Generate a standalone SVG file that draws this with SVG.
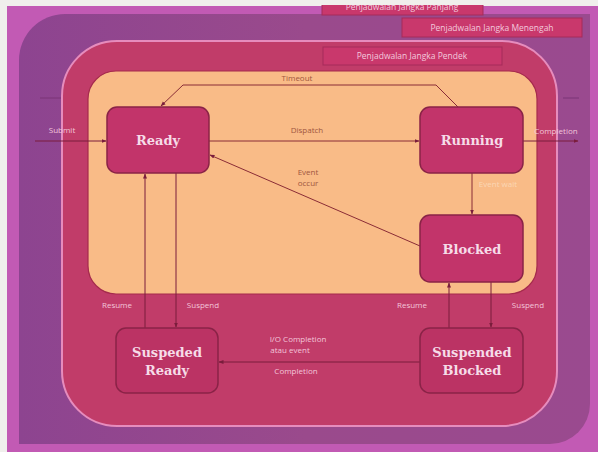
<svg xmlns="http://www.w3.org/2000/svg" width="598" height="452" viewBox="0 0 598 452">
<defs>
<style>
.node rect{fill:#c2346a;stroke:#8a2347;stroke-width:1.5}
.node.sus rect{fill:#bb3364}
.node text{font-family:"DejaVu Serif","Liberation Serif",serif;font-weight:bold;font-size:13px;fill:#f6dce8;text-anchor:middle}
.lbl rect{fill:#c9386c;stroke:#a52a5a;stroke-width:1}
.lbl text{font-family:"Open Sans","Liberation Sans",sans-serif;font-size:8.5px;fill:#f3c9dc;text-anchor:middle}
.ln{fill:none;stroke:#8a2c36;stroke-width:1}
.ln2{fill:none;stroke:#7a1d3c;stroke-width:1}
.tdark{font-family:"Open Sans","Liberation Sans",sans-serif;font-size:8px;fill:#a0563f;text-anchor:middle}
.tlight{font-family:"Open Sans","Liberation Sans",sans-serif;font-size:8px;fill:#f3c6da;text-anchor:middle}
</style>
<linearGradient id="pg" x1="0" y1="0" x2="1" y2="0">
<stop offset="0" stop-color="#8d4490"/><stop offset="0.5" stop-color="#9a4a8c"/><stop offset="1" stop-color="#9a4a8f"/>
</linearGradient>
<marker id="ah" viewBox="0 0 10 10" refX="9" refY="5" markerWidth="5" markerHeight="5" orient="auto">
<path d="M0,1 L10,5 L0,9 Z" fill="#7a1d3c"/>
</marker>
</defs>
<rect x="0" y="0" width="598" height="452" fill="#f0efec"/>
<rect x="7" y="6" width="591" height="446" fill="#c25ab4"/>
<path d="M19,60 A46,46 0 0 1 65,14 L590,14 L590,404 A40,40 0 0 1 550,444 L19,444 Z" fill="url(#pg)"/>
<rect x="62" y="41" width="495" height="385" rx="55" fill="#c13c69" stroke="#e68cbd" stroke-width="2"/>
<rect x="88" y="71" width="449" height="223" rx="28" fill="#f9bb87" stroke="#a52b4d" stroke-width="1.2"/>
<line x1="40" y1="98" x2="61" y2="98" stroke="#7b3577" stroke-width="1"/>
<line x1="563" y1="98" x2="579" y2="98" stroke="#7b3577" stroke-width="1"/>

<g id="label-panjang" class="lbl"><rect x="322" y="-4" width="161" height="19"/><text x="402" y="10">Penjadwalan Jangka Panjang</text></g>
<rect x="0" y="0" width="598" height="5" fill="#f0efec"/>
<g id="label-menengah" class="lbl"><rect x="402" y="18" width="180" height="19"/><text x="492" y="31">Penjadwalan Jangka Menengah</text></g>
<g id="label-pendek" class="lbl"><rect x="323" y="47" width="179" height="18"/><text x="412" y="59">Penjadwalan Jangka Pendek</text></g>

<g id="connectors">
<path class="ln" d="M436,85 L183,85 L161,106" marker-end="url(#ah)"/>
<path class="ln" d="M436,85 L458,107"/>
<text class="tdark" x="297" y="81">Timeout</text>
<line class="ln2" x1="35" y1="141" x2="106" y2="141" marker-end="url(#ah)"/>
<text class="tlight" x="62" y="133">Submit</text>
<line class="ln" x1="209" y1="141" x2="419" y2="141" marker-end="url(#ah)"/>
<text class="tdark" x="307" y="133">Dispatch</text>
<line class="ln2" x1="523" y1="141" x2="578" y2="141" marker-end="url(#ah)"/>
<text class="tlight" x="556" y="134">Completion</text>
<line class="ln" x1="472" y1="173" x2="472" y2="214" marker-end="url(#ah)"/>
<text x="498" y="187" font-family="Open Sans, Liberation Sans, sans-serif" font-size="8px" fill="#fbd6b4" text-anchor="middle">Event wait</text>
<line class="ln" x1="420" y1="246" x2="210" y2="155" marker-end="url(#ah)"/>
<text class="tdark" x="308" y="175">Event</text>
<text class="tdark" x="308" y="186">occur</text>
<line class="ln2" x1="145" y1="328" x2="145" y2="174" marker-end="url(#ah)"/>
<line class="ln2" x1="176" y1="173" x2="176" y2="327" marker-end="url(#ah)"/>
<text class="tlight" x="117" y="308">Resume</text>
<text class="tlight" x="203" y="308">Suspend</text>
<line class="ln2" x1="449" y1="328" x2="449" y2="283" marker-end="url(#ah)"/>
<line class="ln2" x1="491" y1="282" x2="491" y2="327" marker-end="url(#ah)"/>
<text class="tlight" x="412" y="308">Resume</text>
<text class="tlight" x="528" y="308">Suspend</text>
<line class="ln2" x1="420" y1="362" x2="219" y2="362" marker-end="url(#ah)"/>
<text class="tlight" x="298" y="342">I/O Completion</text>
<text class="tlight" x="290" y="353">atau event</text>
<text class="tlight" x="296" y="374">Completion</text>
</g>

<g id="ready" class="node"><rect x="107" y="107" width="102" height="66" rx="10"/><text x="158" y="145">Ready</text></g>
<g id="running" class="node"><rect x="420" y="107" width="103" height="66" rx="10"/><text x="472" y="145">Running</text></g>
<g id="blocked" class="node"><rect x="420" y="215" width="103" height="67" rx="10"/><text x="472" y="254">Blocked</text></g>
<g id="suspended-ready" class="node sus"><rect x="116" y="328" width="102" height="65" rx="10"/><text x="167" y="357">Suspeded</text><text x="167" y="375">Ready</text></g>
<g id="suspended-blocked" class="node sus"><rect x="420" y="328" width="103" height="65" rx="10"/><text x="472" y="357">Suspended</text><text x="472" y="375">Blocked</text></g>
</svg>
